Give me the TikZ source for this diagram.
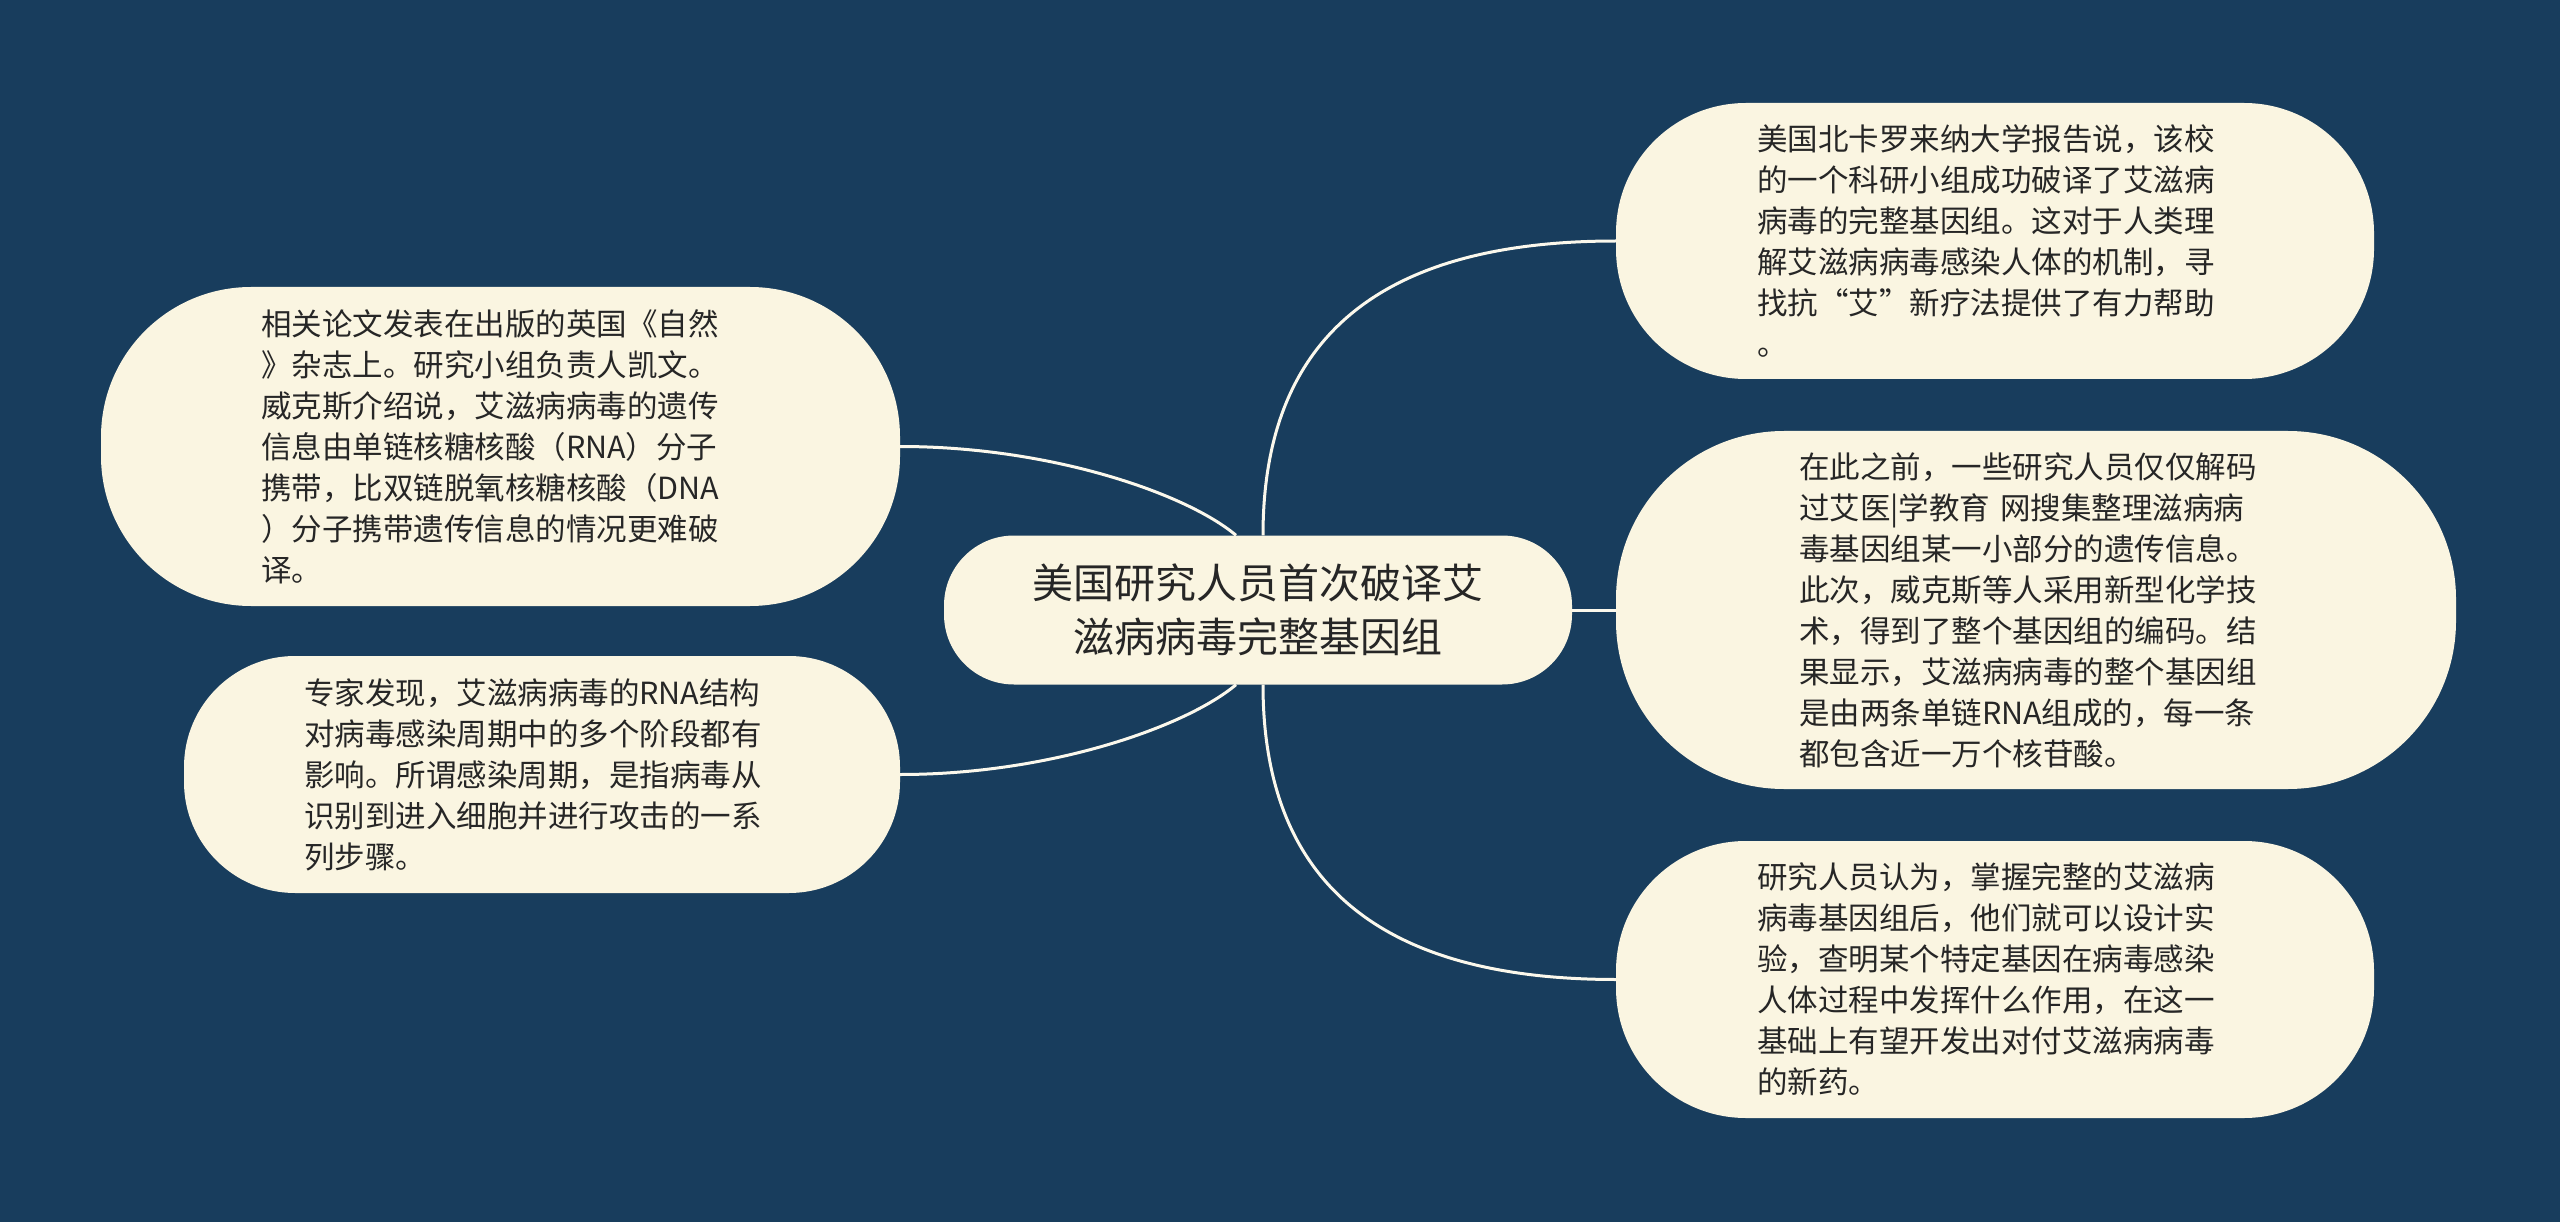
\documentclass[tikz,border=0pt]{standalone}
\usepackage{fontspec}
\newfontfamily\cjk{Noto Sans CJK SC}
\usetikzlibrary{calc}
\definecolor{bgc}{HTML}{183D5D}
\definecolor{boxc}{HTML}{FAF5E1}
\definecolor{txtc}{HTML}{262626}
\definecolor{linec}{HTML}{FBF8EC}
\begin{document}
\begin{tikzpicture}[x=1pt,y=-1pt,
  box/.style={fill=boxc, text=txtc, font=\cjk\fontsize{30.5}{41}\selectfont, align=left, inner ysep=0pt},
  mainbox/.style={fill=boxc, text=txtc, font=\cjk\fontsize{41}{54}\selectfont, align=center, inner sep=0pt},
  link/.style={draw=linec, line width=3pt}]
\fill[bgc] (0,0) rectangle (2560,1222);
\useasboundingbox (0,0) rectangle (2560,1222);

\node[mainbox, minimum width=628pt, minimum height=149pt, rounded corners=70pt] (c) at (1258,610)
  {美国研究人员首次破译艾\\滋病病毒完整基因组};

\node[box, minimum width=799pt, minimum height=319pt, inner xsep=160pt, text width=479pt, rounded corners=150pt] (tl) at (500.5,446.5)
  {相关论文发表在出版的英国《自然\\》杂志上。研究小组负责人凯文。\\威克斯介绍说，艾滋病病毒的遗传\\信息由单链核糖核酸（RNA）分子\\携带，比双链脱氧核糖核酸（DNA\\）分子携带遗传信息的情况更难破\\译。};

\node[box, minimum width=716pt, minimum height=237pt, inner xsep=120pt, text width=476pt, rounded corners=111pt] (bl) at (542,774.5)
  {专家发现，艾滋病病毒的RNA结构\\对病毒感染周期中的多个阶段都有\\影响。所谓感染周期，是指病毒从\\识别到进入细胞并进行攻击的一系\\列步骤。};

\node[box, minimum width=758pt, minimum height=276pt, inner xsep=141pt, text width=476pt, rounded corners=130pt] (tr) at (1995,241)
  {美国北卡罗来纳大学报告说，该校\\的一个科研小组成功破译了艾滋病\\病毒的完整基因组。这对于人类理\\解艾滋病病毒感染人体的机制，寻\\找抗“艾”新疗法提供了有力帮助\\。};

\node[box, minimum width=840pt, minimum height=358pt, inner xsep=183pt, text width=474pt, rounded corners=168pt] (mr) at (2036,610)
  {在此之前，一些研究人员仅仅解码\\过艾医|学教育 网搜集整理滋病病\\毒基因组某一小部分的遗传信息。\\此次，威克斯等人采用新型化学技\\术，得到了整个基因组的编码。结\\果显示，艾滋病病毒的整个基因组\\是由两条单链RNA组成的，每一条\\都包含近一万个核苷酸。};

\node[box, minimum width=758pt, minimum height=277pt, inner xsep=141pt, text width=476pt, rounded corners=130pt] (br) at (1995,979.5)
  {研究人员认为，掌握完整的艾滋病\\病毒基因组后，他们就可以设计实\\验，查明某个特定基因在病毒感染\\人体过程中发挥什么作用，在这一\\基础上有望开发出对付艾滋病病毒\\的新药。};

\draw[link] ($(c.north)+(5,0)$) .. controls ($(c.north)+(5,-196)$) and ($(tr.west)+(-238,0)$) .. (tr.west);
\draw[link] ($(c.north)+(-22,0)$) .. controls ($(c.north)+(-72,-42)$) and ($(tl.east)+(150,0)$) .. (tl.east);
\draw[link] ($(c.south)+(-22,0)$) .. controls ($(c.south)+(-72,42)$) and ($(bl.east)+(150,0)$) .. (bl.east);
\draw[link] ($(c.south)+(5,0)$) .. controls ($(c.south)+(5,196)$) and ($(br.west)+(-238,0)$) .. (br.west);
\draw[link] (c.east) -- (mr.west);
\end{tikzpicture}
\end{document}
